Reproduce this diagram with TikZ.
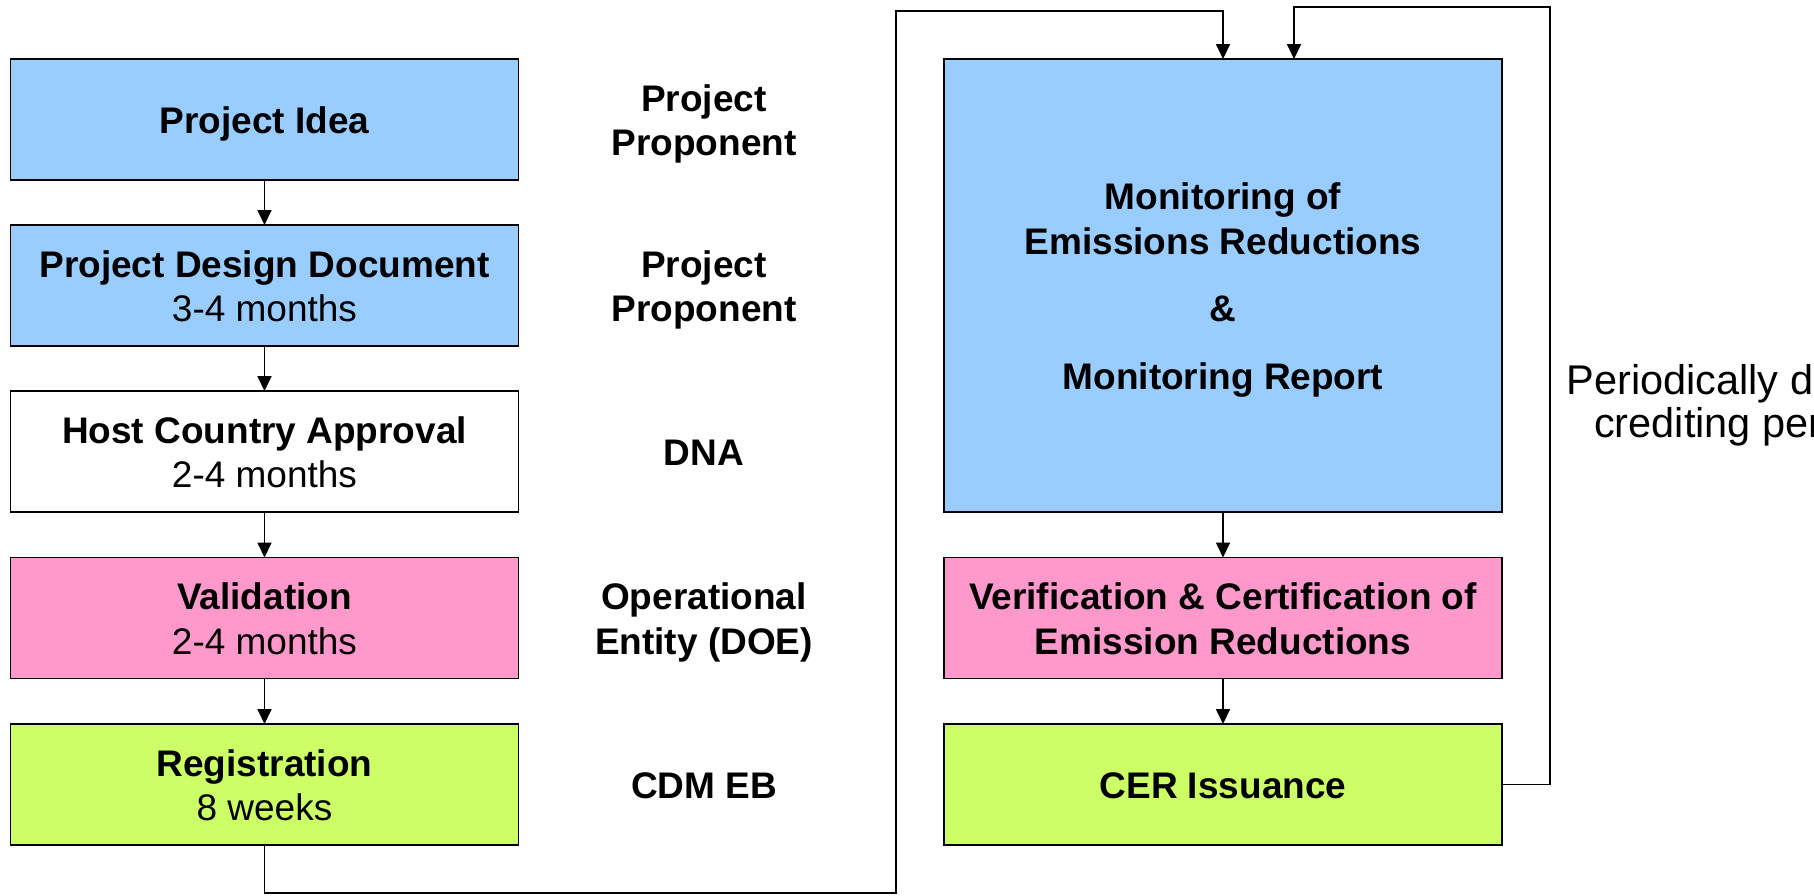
\documentclass[tikz,border=0pt]{standalone}
\usepackage{fontspec}
\setmainfont{Liberation Sans}
\usetikzlibrary{arrows.meta}
\definecolor{boxblue}{HTML}{99CCFF}
\definecolor{boxpink}{HTML}{FF99CC}
\definecolor{boxgreen}{HTML}{CCFF66}
\newcommand\mystrut{\rule[-8pt]{0pt}{43.5pt}}
\newcommand\sidestrut{\rule[-8pt]{0pt}{35pt}}
\begin{document}
\begin{tikzpicture}[x=1pt,y=-1pt,
  box/.style={draw=black, line width=1.8pt, inner sep=0pt, outer sep=0pt,
    minimum width=508pt, minimum height=121pt, align=center,
    font=\fontsize{37}{44.5}\selectfont},
  rbox/.style={box, minimum width=558pt},
  lbl/.style={align=center, inner sep=0pt, font=\fontsize{37}{44.5}\selectfont\bfseries},
  side/.style={align=center, inner sep=0pt, font=\fontsize{41.5}{43}\selectfont},
  arr/.style={line width=1.8pt, -{Triangle[length=15pt,width=14pt]}},
]
\useasboundingbox (0,0) rectangle (1814,895);

% left column
\node[box, fill=boxblue]  (pi)  at (264.5,119.5) {\mystrut\textbf{Project Idea}};
\node[box, fill=boxblue]  (pdd) at (264.5,285.5) {\mystrut\textbf{Project Design Document}\\\mystrut 3-4 months};
\node[box, fill=white]    (hca) at (264.5,451.5) {\mystrut\textbf{Host Country Approval}\\\mystrut 2-4 months};
\node[box, fill=boxpink]  (val) at (264.5,618)   {\mystrut\textbf{Validation}\\\mystrut 2-4 months};
\node[box, fill=boxgreen] (reg) at (264.5,784.5) {\mystrut\textbf{Registration}\\\mystrut 8 weeks};

% middle labels
\node[lbl] (l1) at (704,119.5) {\mystrut Project\\\mystrut Proponent};
\node[lbl] (l2) at (704,285.5) {\mystrut Project\\\mystrut Proponent};
\node[lbl] (l3) at (704,451.5) {\mystrut DNA};
\node[lbl] (l4) at (704,618)   {\mystrut Operational\\\mystrut Entity (DOE)};
\node[lbl] (l5) at (704,784.5) {\mystrut CDM EB};

% right column
\node[rbox, fill=boxblue, minimum height=453pt] (mon) at (1223,285.5)
  {\mystrut\textbf{Monitoring of}\\\textbf{Emissions Reductions}\\[23pt]\textbf{\&}\\[23pt]\mystrut\textbf{Monitoring Report}};
\node[rbox, fill=boxpink]  (ver) at (1223,618)   {\mystrut\textbf{Verification \& Certification of}\\\mystrut\textbf{Emission Reductions}};
\node[rbox, fill=boxgreen] (cer) at (1223,784.5) {\mystrut\textbf{CER Issuance}};

% side note (runs off the right edge, as in the reference)
\node[side] (per) at (1736,405.3) {\sidestrut Periodically during\\\sidestrut crediting period};

% coordinates for bends
\coordinate (cb) at (896,893);
\coordinate (ct) at (896,10.7);
\coordinate (cr) at (1550,7.3);

% connectors
\draw[arr] (pi) -- (pdd);
\draw[arr] (pdd) -- (hca);
\draw[arr] (hca) -- (val);
\draw[arr] (val) -- (reg);
\draw[arr] (mon) -- (ver);
\draw[arr] (ver) -- (cer);
\draw[arr] (reg.south) |- (cb) -- (ct) -| (mon.north);
\draw[arr] (cer.east) -| (cr) -| ([xshift=71pt]mon.north);
\end{tikzpicture}
\end{document}
